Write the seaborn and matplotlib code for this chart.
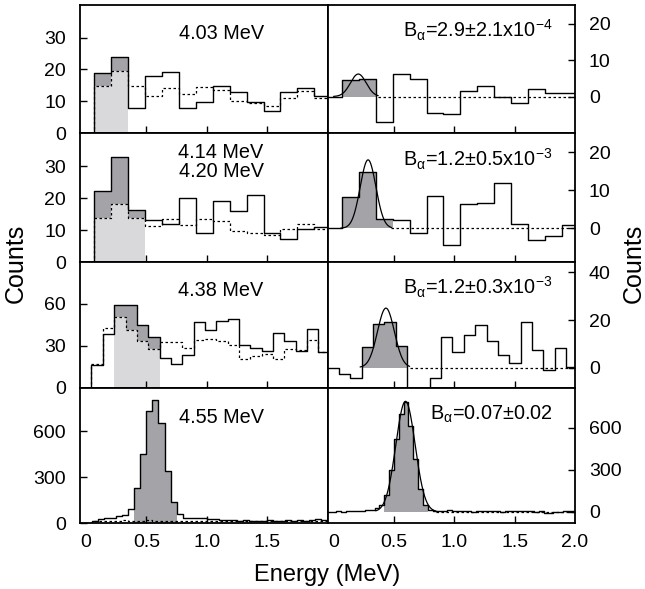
import numpy as np
import matplotlib
matplotlib.use('Agg')
import matplotlib.pyplot as plt
import seaborn as sns

# energy bin edges (MeV); the first bin of every spectrum is an empty lead-in bin
edges_a = np.round(np.arange(-0.07, 2.04, 0.14), 3)    # rows 1-2
edges_b = np.round(np.arange(-0.049, 2.03, 0.094), 3)  # row 3
edges_c = np.round(np.arange(0.0, 2.01, 0.05), 3)      # row 4 left
edges_d = np.round(np.arange(-0.06, 2.03, 0.04), 3)    # row 4 right

# left column: measured counts (solid) and background estimate (dotted)
raw_403 = [0, 19.0, 24.0, 7.8, 17.9, 19.1, 7.8, 9.9, 14.9, 13.0, 9.9, 7.0, 13.0, 14.1, 11.8]
bkg_403 = [0, 14.8, 19.5, 14.8, 11.7, 14.3, 12.2, 14.6, 13.5, 10.1, 9.6, 8.5, 11.1, 13.2, 10.9]
raw_414 = [0, 22.2, 32.9, 16.3, 13.3, 12.1, 20.1, 9.1, 19.3, 16.1, 21.1, 9.1, 7.2, 10.3, 11.1]
bkg_414 = [0, 14.0, 18.2, 14.0, 11.4, 13.5, 11.6, 13.7, 12.9, 9.8, 9.3, 8.5, 10.5, 12.1, 10.6]
raw_438 = [0, 16.1, 38.4, 58.8, 58.8, 45.1, 36.5, 20.9, 17.3, 23.5, 47.2, 41.2, 48.0, 49.2,
           30.5, 28.1, 25.9, 38.8, 33.1, 25.9, 42.0, 25.2]
bkg_438 = [0, 16.8, 42.4, 50.8, 41.5, 33.6, 27.6, 32.9, 32.9, 28.1, 34.3, 34.8, 33.6, 30.5,
           20.4, 22.8, 24.0, 20.4, 27.6, 27.1, 34.1, 25.2]
raw_455 = [0, 15, 25, 30, 35, 45, 55, 90, 230, 450, 730, 805, 655, 340, 140, 60, 35, 30, 35, 30,
           28, 24, 22, 20, 18, 16, 17, 15, 16, 15, 17, 16, 15, 17, 16, 18, 15, 22, 25, 20]
bkg_455 = [0, 12, 14, 15, 16, 15, 17, 16, 15, 16, 17, 15, 16, 15, 14, 16, 15, 14, 15, 14,
           13, 14, 12, 13, 12, 11, 12, 11, 10, 11, 12, 10, 11, 12, 10, 11, 12, 13, 14, 12]

# right column: background-subtracted spectra
sub_403 = [0, 4.6, 4.8, -7.1, 6.2, 4.9, -4.4, -4.8, 1.6, 2.9, 0.0, -1.7, 2.0, 1.1, 1.1]
sub_414 = [0, 8.2, 14.8, 2.4, 2.2, -1.3, 8.4, -4.5, 6.4, 6.7, 11.9, 1.1, -3.2, -2.0, 0.8]
sub_438 = [0, -2.8, -4.2, 8.5, 18.4, 19.1, 9.2, -12, -14, -4.2, 12.7, 6.4, 13.8, 17.9, 11.3,
           5.4, 2.1, 19.1, 7.5, -1.0, 8.1, 0.4]
sub_455 = [0, 0, 3, 2, 5, 4, 8, 6, 10, 12, 30, 50, 120, 300, 520, 700, 786, 610, 380, 160,
           50, 15, 8, 5, 8, 10, 8, 5, 3, 4, 2, 5, 3, 6, 4, 3, 2, 6, 5, 3,
           5, 7, 3, 2, 4, -5, -12, -3, 2, 3, 6, 4]

# gaussian fits (centre MeV, amplitude, sigma MeV, drawn range)
fit_centre = [0.205, 0.286, 0.434, 0.596]
fit_amp = [6.2, 18.0, 25.0, 790]
fit_sigma = [0.065, 0.065, 0.07, 0.08]
fit_lo = [0.0, 0.06, 0.22, 0.35]
fit_hi = [0.37, 0.48, 0.63, 0.85]

# shaded peak bins [start, stop)
peak_left = [(1, 3), (1, 4), (3, 7), (8, 15)]
peak_right = [(1, 3), (1, 4), (3, 7), (12, 21)]

left_text = ['4.03 MeV', '4.14 MeV\n4.20 MeV', '4.38 MeV', '4.55 MeV']
right_text = [r'B$_{\mathrm{α}}$=2.9$\pm$2.1x10$^{-4}$', r'B$_{\mathrm{α}}$=1.2$\pm$0.5x10$^{-3}$',
              r'B$_{\mathrm{α}}$=1.2$\pm$0.3x10$^{-3}$', r'B$_{\mathrm{α}}$=0.07$\pm$0.02']

left_yticks = [[0, 10, 20, 30], [0, 10, 20, 30], [0, 30, 60], [0, 300, 600]]
right_yticks = [[0, 10, 20], [0, 10, 20], [0, 20, 40], [0, 300, 600]]
left_ylim = [(0, 40.2), (0, 40.3), (0, 89.5), (0, 885)]
right_ylim = [(-10.1, 25.2), (-9.0, 25.0), (-8.5, 44.2), (-80, 887)]

sns.set_style('ticks')
plt.rcParams['font.family'] = ['Liberation Sans', 'DejaVu Sans']
plt.rcParams['mathtext.fontset'] = 'custom'
plt.rcParams['mathtext.rm'] = 'Liberation Sans'
plt.rcParams['mathtext.it'] = 'Liberation Sans:italic'
plt.rcParams['mathtext.sf'] = 'Liberation Sans'
for key in ['text.color', 'axes.labelcolor', 'xtick.color', 'ytick.color', 'axes.edgecolor']:
    plt.rcParams[key] = 'black'

DARK = '#a4a4a8'
LIGHT = '#d9d9dc'
DOT = (0, (2, 2))
TICK_FS = 14
NOTE_FS = 14.3

left_data = [(edges_a, raw_403, bkg_403), (edges_a, raw_414, bkg_414),
             (edges_b, raw_438, bkg_438), (edges_c, raw_455, bkg_455)]
right_data = [(edges_a, sub_403), (edges_a, sub_414), (edges_b, sub_438), (edges_d, sub_455)]


def step_fill(ax, edges, lo, hi, i0, i1, color):
    lo = np.asarray(lo, float)
    hi = np.asarray(hi, float)
    x = edges[i0:i1 + 1]
    y1 = np.append(lo[i0:i1], lo[i1 - 1])
    y2 = np.append(hi[i0:i1], hi[i1 - 1])
    ax.fill_between(x, y1, y2, step='post', color=color, lw=0, zorder=0)


def step_line(ax, edges, vals, **kw):
    mids = (edges[:-1] + edges[1:]) / 2
    sns.histplot(x=mids, weights=vals, bins=list(edges), element='step', fill=False,
                 color='black', ax=ax, **kw)


def style_axes(ax, last_row):
    ax.tick_params(direction='in', length=5, width=1.0, labelsize=TICK_FS, pad=10)
    ax.tick_params(axis='x', labelbottom=last_row, pad=8)
    ax.set_xlabel('')
    ax.set_ylabel('')
    for s in ax.spines.values():
        s.set_visible(True)
        s.set_linewidth(1.3)


fig = plt.figure(figsize=(6.45, 5.89), dpi=100)
gs = fig.add_gridspec(4, 2, left=80 / 645, right=575 / 645, top=1 - 5 / 589,
                      bottom=1 - 523 / 589, hspace=0, wspace=0,
                      height_ratios=[128, 129, 125, 135])

for r in range(4):
    # ---- left column
    ax = fig.add_subplot(gs[r, 0])
    edges, raw, bkg = left_data[r]
    i0, i1 = peak_left[r]
    step_fill(ax, edges, np.zeros(len(bkg)), bkg, i0, i1, DARK if r == 3 else LIGHT)
    step_fill(ax, edges, bkg, raw, i0, i1, DARK)
    step_line(ax, edges, bkg, linewidth=0.9, linestyle=DOT)
    step_line(ax, edges, raw, linewidth=1.0)
    ax.set_xlim(-0.05, 2.0)
    ax.set_ylim(*left_ylim[r])
    ax.set_yticks(left_yticks[r])
    ax.set_xticks([0, 0.5, 1.0, 1.5])
    ax.set_xticklabels(['0', '0.5', '1.0', '1.5'])
    ax.xaxis.get_major_ticks()[0].tick1line.set_visible(False)
    style_axes(ax, r == 3)
    ax.text(0.57, 0.78, left_text[r], transform=ax.transAxes, ha='center', va='center',
            fontsize=NOTE_FS, linespacing=1.0)

    # ---- right column
    ax = fig.add_subplot(gs[r, 1])
    edges, sub = right_data[r]
    i0, i1 = peak_right[r]
    step_fill(ax, edges, np.zeros(len(sub)), sub, i0, i1, DARK)
    ax.hlines(0, fit_hi[r], 2.0, colors='black', linestyles=DOT, linewidth=0.9)
    step_line(ax, edges, sub, linewidth=1.0)
    xg = np.linspace(fit_lo[r], fit_hi[r], 200)
    yg = fit_amp[r] * np.exp(-0.5 * ((xg - fit_centre[r]) / fit_sigma[r]) ** 2)
    sns.lineplot(x=xg, y=yg, color='black', linewidth=0.9, ax=ax)
    ax.set_xlim(-0.05, 2.0)
    ax.set_ylim(*right_ylim[r])
    ax.set_yticks(right_yticks[r])
    ax.set_xticks([0, 0.5, 1.0, 1.5, 2.0])
    ax.set_xticklabels(['0', '0.5', '1.0', '1.5', '2.0'])
    ax.xaxis.get_major_ticks()[0].tick1line.set_visible(False)
    ax.xaxis.get_major_ticks()[-1].tick1line.set_visible(False)
    ax.yaxis.tick_right()
    style_axes(ax, r == 3)
    ax.text(0.91, 0.80, right_text[r], transform=ax.transAxes, ha='right', va='center',
            fontsize=NOTE_FS)

fig.text(0.025, 0.552, 'Counts', rotation=90, ha='center', va='center', fontsize=18)
fig.text(0.983, 0.552, 'Counts', rotation=90, ha='center', va='center', fontsize=18)
fig.text(327 / 645, 0.024, 'Energy (MeV)', ha='center', va='center', fontsize=17)

fig.savefig('out.png', dpi=100)
